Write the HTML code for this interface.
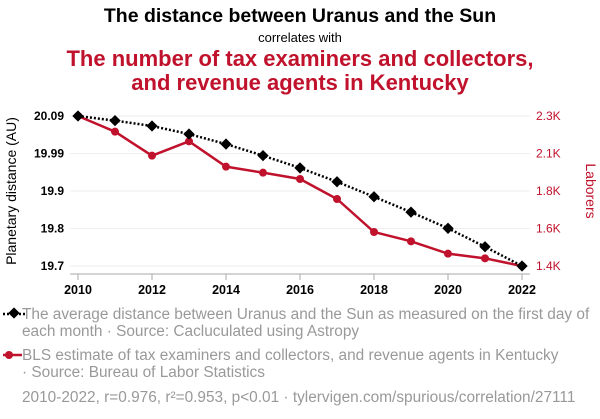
<!DOCTYPE html>
<html><head><meta charset="utf-8"><style>
body{margin:0;background:#fff;width:600px;height:414px;overflow:hidden;font-family:"Liberation Sans",sans-serif}
</style></head><body>
<svg width="600" height="414" id="svg" font-family="Liberation Sans, sans-serif">
<text x="300" y="22" text-anchor="middle" font-size="19.5" font-weight="bold" fill="#000">The distance between Uranus and the Sun</text>
<text x="300" y="42" text-anchor="middle" font-size="13" fill="#000">correlates with</text>
<text x="300" y="66" text-anchor="middle" font-size="22" font-weight="bold" fill="#c0122c">The number of tax examiners and collectors,</text>
<text x="300" y="90" text-anchor="middle" font-size="22" font-weight="bold" fill="#c0122c">and revenue agents in Kentucky</text>
<text transform="translate(16,191) rotate(-90)" text-anchor="middle" font-size="14" fill="#000">Planetary distance (AU)</text>
<text transform="translate(586,191) rotate(90)" text-anchor="middle" font-size="14" fill="#c0122c">Laborers</text>
<g id="grid"></g><g id="axes"></g><g id="marks"></g>
<g font-size="15.4" fill="#999">
<line x1="3" y1="314" x2="27" y2="314" stroke="#000" stroke-width="2.5" stroke-dasharray="2,2"/>
<rect x="10" y="309" width="8" height="8" transform="rotate(45 14 313)" fill="#000"/>
<text x="22" y="319">The average distance between Uranus and the Sun as measured on the first day of</text>
<text x="22" y="336">each month · Source: Cacluculated using Astropy</text>
<line x1="3" y1="355" x2="22" y2="355" stroke="#c0122c" stroke-width="2.5"/>
<circle cx="9" cy="355" r="4" fill="#c0122c"/>
<text x="22" y="360">BLS estimate of tax examiners and collectors, and revenue agents in Kentucky</text>
<text x="22" y="377">· Source: Bureau of Labor Statistics</text>
<text x="22" y="402">2010-2022, r=0.976, r²=0.953, p&lt;0.01 · tylervigen.com/spurious/correlation/27111</text>
</g>
</svg>
<script>
const years=[2010,2011,2012,2013,2014,2015,2016,2017,2018,2019,2020,2021,2022];
const distance=[20.09,20.078,20.064,20.043,20.017,19.987,19.955,19.919,19.880,19.840,19.798,19.750,19.70];
const laborers=[2300,2206,2062,2148,1996,1960,1922,1802,1604,1548,1474,1446,1400];
const leftTicks=["20.09","19.99","19.9","19.8","19.7"];
const rightTicks=["2.3K","2.1K","1.8K","1.6K","1.4K"];
const xTicks=[2010,2012,2014,2016,2018,2020,2022];
const NS="http://www.w3.org/2000/svg";
const X=v=>78+(v-2010)/12*444;
const YL=v=>266-(v-19.70)/0.39*150;
const YR=v=>266-(v-1400)/900*150;
function mk(t,a,p){const e=document.createElementNS(NS,t);for(const k in a)e.setAttribute(k,a[k]);p.appendChild(e);return e;}
const grid=document.getElementById('grid'),axes=document.getElementById('axes'),marks=document.getElementById('marks');
leftTicks.forEach((l,i)=>{const y=116+i*37.5;
 const g=mk('line',{x1:70,x2:530,y1:y,y2:y,stroke:'#eee','stroke-width':1},grid);
 
 const t=mk('text',{x:64,y:y+4,'text-anchor':'end','font-size':12,'font-weight':'bold',fill:'#000'},axes);t.textContent=l;
 
 const r=mk('text',{x:536,y:y+4,'font-size':12,fill:'#c0122c'},axes);r.textContent=rightTicks[i];
 
});
const xa=mk('line',{x1:70,x2:530,y1:274,y2:274,stroke:'#aaa'},axes);

xTicks.forEach(v=>{const x=X(v);mk('line',{x1:x,x2:x,y1:274,y2:280,stroke:'#aaa'},axes);
 const t=mk('text',{x:x,y:294,'text-anchor':'middle','font-size':12.5,'font-weight':'bold',fill:'#000'},axes);t.textContent=v;
 });
const rp=mk('polyline',{points:years.map((y,i)=>X(y)+','+YR(laborers[i])).join(' '),fill:'none',stroke:'#c0122c','stroke-width':2.5},marks);

years.forEach((y,i)=>{const c=mk('circle',{cx:X(y),cy:YR(laborers[i]),r:4,fill:'#c0122c'},marks);
 });
const bp=mk('polyline',{points:years.map((y,i)=>X(y)+','+YL(distance[i])).join(' '),fill:'none',stroke:'#000','stroke-width':2.5,'stroke-dasharray':'2,2'},marks);

years.forEach((y,i)=>{const x=X(y),yy=YL(distance[i]);
 const d=mk('rect',{x:x-4,y:yy-4,width:8,height:8,fill:'#000',transform:`rotate(45 ${x} ${yy})`},marks);
 });
</script>
</body></html>
